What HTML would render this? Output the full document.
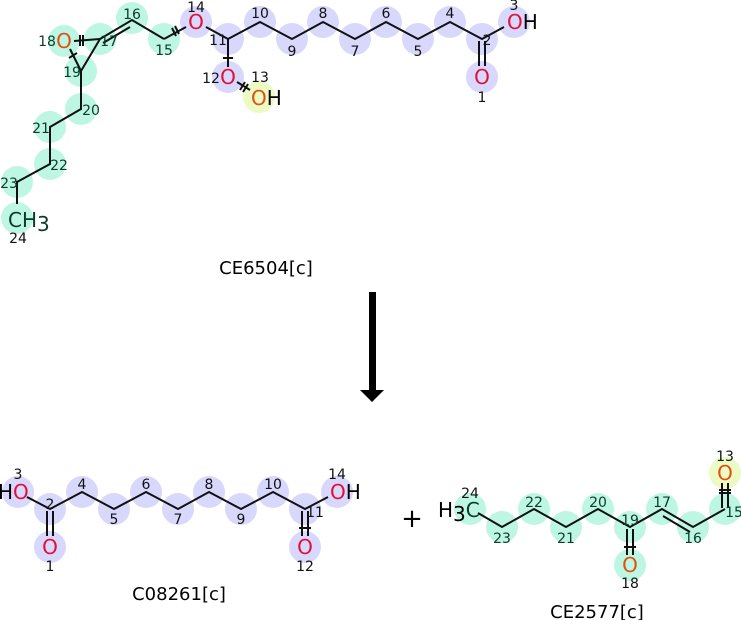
<!DOCTYPE html>
<html><head><meta charset="utf-8"><style>
html,body{margin:0;padding:0;background:#fff;}
svg{display:block;font-family:"DejaVu Sans","Liberation Sans",sans-serif;}
.b{fill:#d8d8fc}.g{fill:#bdf7e3}.y{fill:#ecfac4}
.n{font-size:14px;fill:#111;text-anchor:middle}
.ng{font-size:14px;fill:#0c3a2a;text-anchor:middle}
.o{font-size:20px;fill:#e0103a;text-anchor:middle}
.oo{font-size:20px;fill:#e05010;text-anchor:middle}
.k{font-size:20px;fill:#000}
.t{font-size:18px;fill:#000;text-anchor:middle}
line,polyline{stroke:#111;stroke-width:2;fill:none}
</style></head><body>
<svg width="741" height="620" viewBox="0 0 741 620">
<g class="b">
<circle cx="196" cy="22" r="16"/><circle cx="228" cy="39" r="16"/><circle cx="260" cy="22" r="16"/><circle cx="292" cy="39" r="16"/><circle cx="323" cy="22" r="16"/><circle cx="355" cy="39" r="16"/><circle cx="386" cy="22" r="16"/><circle cx="418" cy="39" r="16"/><circle cx="450" cy="22" r="16"/><circle cx="482" cy="39" r="16"/><circle cx="514" cy="22" r="16"/><circle cx="482" cy="77" r="16"/><circle cx="228" cy="77" r="16"/>
</g>
<circle class="y" cx="259" cy="97" r="16"/>
<g class="g">
<circle cx="132" cy="18" r="16"/><circle cx="100" cy="39" r="16"/><circle cx="64" cy="41" r="16"/><circle cx="81" cy="71" r="16"/><circle cx="164" cy="39" r="16"/><circle cx="81" cy="109" r="16"/><circle cx="50" cy="127" r="16"/><circle cx="50" cy="164" r="16"/><circle cx="17" cy="182" r="16"/><circle cx="17" cy="218" r="16"/>
</g>
<polyline points="206,27 228,39 260,22 292,39 323,22 355,39 386,22 418,39 450,22 482,39 504,27"/>
<line x1="479" y1="41" x2="479" y2="66"/><line x1="485" y1="41" x2="485" y2="66"/>
<line x1="228" y1="39" x2="228" y2="67"/><line x1="223" y1="58" x2="233" y2="58"/>
<line x1="237" y1="82" x2="250" y2="90"/><line x1="240" y1="90" x2="245" y2="82"/><line x1="243" y1="92" x2="248" y2="84"/>
<line x1="186" y1="27" x2="164" y2="39"/><line x1="176" y1="36" x2="172" y2="28"/><line x1="179" y1="34" x2="175" y2="26"/>
<polyline points="164,39 132,20 100,39"/><line x1="130" y1="27" x2="103" y2="43"/>
<line x1="74" y1="41" x2="100" y2="39"/><line x1="80" y1="35" x2="80" y2="46"/><line x1="83" y1="35" x2="83" y2="46"/>
<line x1="100" y1="39" x2="81" y2="71"/><line x1="70" y1="49" x2="81" y2="71"/><line x1="69" y1="58" x2="77" y2="53"/>
<polyline points="81,71 81,109 50,127 50,164 17,182 17,204"/>
<g class="n">
<text x="196" y="12">14</text><text x="218" y="45">11</text><text x="260" y="18">10</text><text x="292" y="56">9</text><text x="323" y="18">8</text><text x="355" y="56">7</text><text x="386" y="18">6</text><text x="418" y="56">5</text><text x="450" y="18">4</text><text x="487" y="45">2</text><text x="514" y="10">3</text><text x="482" y="102">1</text><text x="211" y="83">12</text><text x="260" y="82">13</text>
</g>
<g class="ng">
<text x="132" y="19">16</text><text x="109" y="46">17</text><text x="47" y="46">18</text><text x="72" y="77">19</text><text x="164" y="55">15</text><text x="91" y="115">20</text><text x="41" y="133">21</text><text x="59" y="170">22</text><text x="9" y="188">23</text>
</g>
<text class="n" x="18" y="243">24</text>
<text class="o" x="196" y="29">O</text>
<text x="507" y="29" style="font-size:20px"><tspan fill="#e0103a">O</tspan><tspan fill="#000">H</tspan></text>
<text class="o" x="482" y="84">O</text><text class="o" x="228" y="84">O</text>
<text x="251" y="105" style="font-size:20px"><tspan fill="#e05010">O</tspan><tspan fill="#000">H</tspan></text>
<text class="oo" x="64" y="48">O</text>
<text x="8" y="227" style="font-size:20px;fill:#0c3a2a">CH<tspan dy="4">3</tspan></text>
<text class="t" x="266" y="274">CE6504[c]</text>
<rect x="369" y="292" width="7" height="98" fill="#000"/>
<polygon points="360,390 384,390 372,402" fill="#000"/>
<g class="b">
<circle cx="18" cy="492" r="16"/><circle cx="50" cy="509" r="16"/><circle cx="82" cy="492" r="16"/><circle cx="114" cy="509" r="16"/><circle cx="146" cy="492" r="16"/><circle cx="178" cy="509" r="16"/><circle cx="209" cy="492" r="16"/><circle cx="241" cy="509" r="16"/><circle cx="273" cy="492" r="16"/><circle cx="305" cy="509" r="16"/><circle cx="337" cy="492" r="16"/><circle cx="50" cy="547" r="16"/><circle cx="305" cy="547" r="16"/>
</g>
<polyline points="27,497 50,509 82,492 114,509 146,492 178,509 209,492 241,509 273,492 305,509 328,497"/>
<line x1="47" y1="511" x2="47" y2="536"/><line x1="53" y1="511" x2="53" y2="536"/>
<line x1="302" y1="511" x2="302" y2="536"/><line x1="308" y1="511" x2="308" y2="536"/><line x1="299" y1="528" x2="311" y2="528"/>
<g class="n">
<text x="18" y="479">3</text><text x="50" y="509">2</text><text x="82" y="489">4</text><text x="114" y="524">5</text><text x="146" y="489">6</text><text x="178" y="524">7</text><text x="209" y="489">8</text><text x="241" y="524">9</text><text x="273" y="489">10</text><text x="315" y="517">11</text><text x="337" y="479">14</text><text x="50" y="571">1</text><text x="305" y="571">12</text>
</g>
<text x="-2" y="499" style="font-size:20px"><tspan fill="#000">H</tspan><tspan fill="#e0103a">O</tspan></text>
<text x="330" y="499" style="font-size:20px"><tspan fill="#e0103a">O</tspan><tspan fill="#000">H</tspan></text>
<text class="o" x="50" y="554">O</text><text class="o" x="305" y="554">O</text>
<text class="t" x="179" y="600">C08261[c]</text>
<text x="412" y="527" style="font-size:26px;text-anchor:middle">+</text>
<g class="g">
<circle cx="470" cy="509" r="16"/><circle cx="502" cy="527" r="16"/><circle cx="534" cy="509" r="16"/><circle cx="566" cy="527" r="16"/><circle cx="598" cy="509" r="16"/><circle cx="630" cy="527" r="16"/><circle cx="662" cy="509" r="16"/><circle cx="693" cy="527" r="16"/><circle cx="725" cy="509" r="16"/><circle cx="630" cy="565" r="16"/>
</g>
<circle class="y" cx="725" cy="473" r="16"/>
<polyline points="478,513 502,527 534,509 566,527 598,509 630,527 662,509 693,527 725,509"/>
<line x1="663" y1="516" x2="690" y2="532"/>
<line x1="627" y1="529" x2="627" y2="555"/><line x1="633" y1="529" x2="633" y2="555"/><line x1="624" y1="547" x2="636" y2="547"/>
<line x1="722" y1="508" x2="722" y2="483"/><line x1="728" y1="508" x2="728" y2="483"/><line x1="719" y1="490" x2="731" y2="490"/><line x1="719" y1="493" x2="731" y2="493"/>
<g class="n"><text x="470" y="498">24</text><text x="630" y="588">18</text><text x="725" y="461">13</text></g>
<g class="ng">
<text x="502" y="543">23</text><text x="534" y="507">22</text><text x="566" y="543">21</text><text x="598" y="507">20</text><text x="630" y="525">19</text><text x="662" y="507">17</text><text x="693" y="543">16</text><text x="734" y="517">15</text>
</g>
<text x="438" y="517" style="font-size:20px"><tspan fill="#000">H</tspan><tspan dy="4" fill="#000">3</tspan><tspan dy="-4" fill="#0c3a2a">C</tspan></text>
<text class="oo" x="630" y="572">O</text><text class="oo" x="725" y="480">O</text>
<text class="t" x="597" y="618">CE2577[c]</text>
</svg>
</body></html>
